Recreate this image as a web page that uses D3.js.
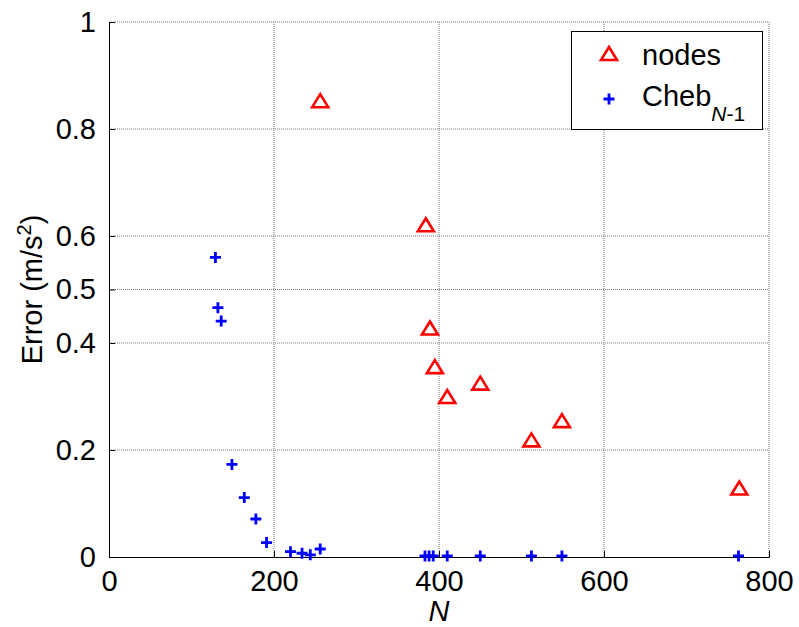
<!DOCTYPE html>
<html>
<head>
<meta charset="utf-8">
<script src="https://cdn.jsdelivr.net/npm/d3@7"></script>
<style>
  body { margin: 0; background: #fff; }
  text { font-family: "Liberation Sans", Arial, sans-serif; }
</style>
</head>
<body>
<div class="result"></div>
<script>
// Data
const nodesN = [256, 384, 389, 395, 410, 450, 512, 549, 764];
const nodesErr = [0.852, 0.620, 0.427, 0.355, 0.299, 0.324, 0.218, 0.254, 0.128];

const chebN = [129, 132, 136, 149, 164, 178, 191, 220, 234, 244, 256,
  383, 388, 393, 410, 450, 512, 549, 763];
const chebErr = [0.560, 0.466, 0.441, 0.173, 0.111, 0.071, 0.027, 0.010, 0.007, 0.004, 0.015,
  0.002, 0.002, 0.002, 0.002, 0.002, 0.002, 0.002, 0.002];

const xTicks = [0, 200, 400, 600, 800];
const yTicks = [0, 0.2, 0.4, 0.5, 0.6, 0.8, 1];

// Width and height
const w = 799;
const h = 627;
const margin = { left: 109, right: 30, top: 22, bottom: 70 };

const svg = d3.select('.result')
  .append('svg')
  .attr('width', w)
  .attr('height', h);

// Scales
const xScale = d3.scaleLinear()
  .domain([0, 800])
  .range([margin.left, w - margin.right]);

const yScale = d3.scaleLinear()
  .domain([0, 1])
  .range([h - margin.bottom, margin.top]);

const fontSize = 29;

// Grid lines
svg.append('g')
  .selectAll('line')
  .data(xTicks.slice(1))
  .enter()
  .append('line')
  .attr('x1', d => xScale(d)).attr('x2', d => xScale(d))
  .attr('y1', yScale(0)).attr('y2', yScale(1))
  .attr('stroke', '#777')
  .attr('stroke-dasharray', '1,1');

svg.append('g')
  .selectAll('line')
  .data(yTicks.slice(1))
  .enter()
  .append('line')
  .attr('x1', xScale(0)).attr('x2', xScale(800))
  .attr('y1', d => yScale(d)).attr('y2', d => yScale(d))
  .attr('stroke', '#777')
  .attr('stroke-dasharray', '1,1');

// X axis
const xAxis = d3.axisBottom(xScale)
  .tickValues(xTicks)
  .tickSize(-6)
  .tickPadding(13)
  .tickSizeOuter(0);

const gx = svg.append('g')
  .attr('transform', 'translate(0,' + yScale(0) + ')')
  .call(xAxis);
gx.select('.domain').attr('stroke', '#000');
gx.selectAll('text')
  .attr('font-size', fontSize)
  .attr('font-family', '"Liberation Sans", Arial, sans-serif')
  .attr('fill', '#000');

// Y axis
const yAxis = d3.axisLeft(yScale)
  .tickValues(yTicks)
  .tickFormat(d3.format('~g'))
  .tickSize(-6)
  .tickPadding(13)
  .tickSizeOuter(0);

const gy = svg.append('g')
  .attr('transform', 'translate(' + xScale(0) + ',0)')
  .call(yAxis);
gy.select('.domain').attr('stroke', '#000');
gy.selectAll('text')
  .attr('font-size', fontSize)
  .attr('font-family', '"Liberation Sans", Arial, sans-serif')
  .attr('fill', '#000');

// Axis labels
svg.append('text')
  .attr('x', xScale(400))
  .attr('y', 621)
  .attr('text-anchor', 'middle')
  .attr('font-size', fontSize)
  .attr('font-style', 'italic')
  .text('N');

const yl = svg.append('text')
  .attr('transform', 'translate(42,' + yScale(0.5) + ') rotate(-90)')
  .attr('text-anchor', 'middle')
  .attr('font-size', fontSize);
yl.append('tspan').text('Error (m/s');
yl.append('tspan').attr('font-size', 20).attr('dy', -11).text('2');
yl.append('tspan').attr('dy', 11).text(')');

// Marker shapes
const triPath = function (cx, cy) {
  return 'M' + cx + ',' + (cy - 7) + 'L' + (cx + 8) + ',' + (cy + 6) + 'L' + (cx - 8) + ',' + (cy + 6) + 'Z';
};
const plusPath = function (cx, cy) {
  return 'M' + (cx - 5.5) + ',' + cy + 'H' + (cx + 5.5) + 'M' + cx + ',' + (cy - 5.5) + 'V' + (cy + 5.5);
};

// Cheb markers
svg.append('g')
  .selectAll('path')
  .data(chebN.map((n, i) => [n, chebErr[i]]))
  .enter()
  .append('path')
  .attr('d', d => plusPath(xScale(d[0]), yScale(d[1])))
  .attr('stroke', '#0000ff')
  .attr('stroke-width', 2.8)
  .attr('fill', 'none');

// nodes markers
svg.append('g')
  .selectAll('path')
  .data(nodesN.map((n, i) => [n, nodesErr[i]]))
  .enter()
  .append('path')
  .attr('d', d => triPath(xScale(d[0]), yScale(d[1])))
  .attr('stroke', '#ff0000')
  .attr('stroke-width', 2.6)
  .attr('fill', 'none');

// Legend
const lg = svg.append('g');
lg.append('rect')
  .attr('x', 571.5).attr('y', 31.5)
  .attr('width', 191).attr('height', 98)
  .attr('fill', '#fff')
  .attr('stroke', '#000');
lg.append('path')
  .attr('d', triPath(609, 54))
  .attr('stroke', '#ff0000')
  .attr('stroke-width', 2.6)
  .attr('fill', 'none');
lg.append('path')
  .attr('d', plusPath(609, 99))
  .attr('stroke', '#0000ff')
  .attr('stroke-width', 2.8)
  .attr('fill', 'none');
lg.append('text')
  .attr('x', 642).attr('y', 65)
  .attr('font-size', fontSize)
  .text('nodes');
const cheb = lg.append('text')
  .attr('x', 642).attr('y', 106)
  .attr('font-size', fontSize);
cheb.append('tspan').text('Cheb');
cheb.append('tspan').attr('dy', 15).attr('font-size', 21).attr('font-style', 'italic').text('N');
cheb.append('tspan').attr('font-size', 21).text('-1');
</script>
</body>
</html>
